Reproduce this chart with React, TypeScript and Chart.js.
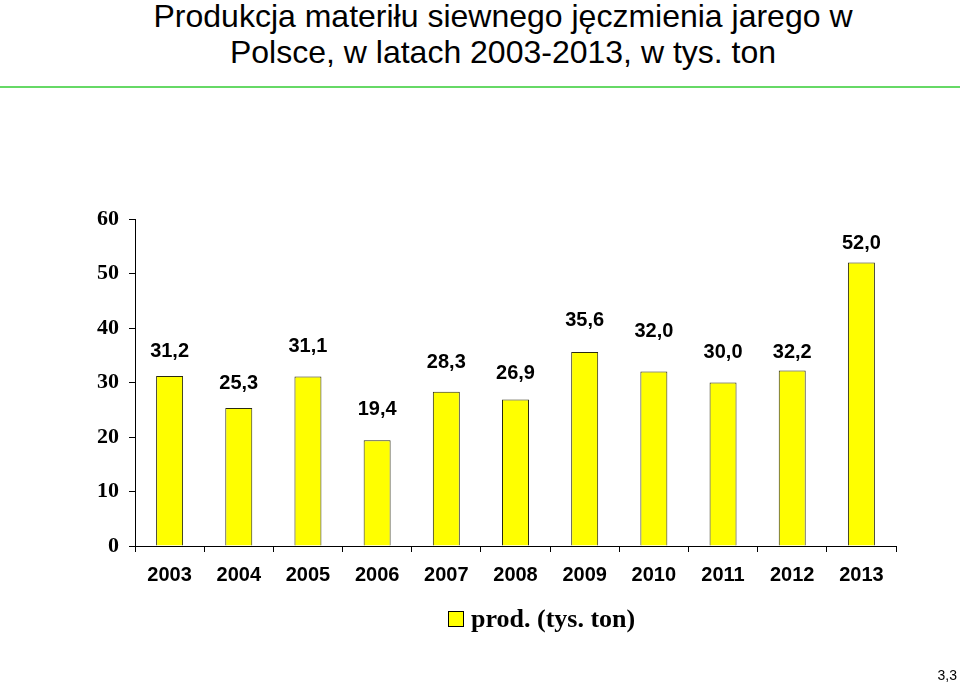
import React, { useEffect, useRef } from "react";
import { Chart, registerables } from "chart.js";

Chart.register(...registerables);

const years = ["2003", "2004", "2005", "2006", "2007", "2008", "2009", "2010", "2011", "2012", "2013"];
const production = [31.2, 25.3, 31.1, 19.4, 28.3, 26.9, 35.6, 32.0, 30.0, 32.2, 52.0];
const labelLifts = [24, 25, 30, 31, 29, 26, 31, 40, 30, 18, 19];
const yTicks = [0, 10, 20, 30, 40, 50, 60];
const titleLines = ["Produkcja materiłu siewnego jęczmienia jarego w", "Polsce, w latach 2003-2013, w tys. ton"];
const seriesName = "prod. (tys. ton)";
const pageNote = "3,3";

const valueLabels = {
  id: "valueLabels",
  afterDatasetsDraw(chart: any) {
    const ctx = chart.ctx;
    const meta = chart.getDatasetMeta(0);
    ctx.save();
    ctx.font = "bold 20px 'Liberation Sans', Arial, sans-serif";
    ctx.fillStyle = "#000";
    ctx.textAlign = "center";
    ctx.textBaseline = "middle";
    meta.data.forEach((el: any, i: number) => {
      const v = production[i];
      ctx.fillText(v.toFixed(1).replace(".", ","), el.x, el.y - labelLifts[i]);
    });
    ctx.restore();
  },
};

export default function App() {
  const ref = useRef<HTMLCanvasElement | null>(null);
  useEffect(() => {
    if (!ref.current) return;
    const chart = new Chart(ref.current, {
      type: "bar",
      data: {
        labels: years,
        datasets: [
          {
            label: seriesName,
            data: production,
            backgroundColor: "#FFFF00",
            borderColor: "#2a2a10",
            borderWidth: 1,
            categoryPercentage: 1,
            barPercentage: 0.39,
          },
        ],
      },
      options: {
        animation: false,
        responsive: false,
        maintainAspectRatio: false,
        layout: { padding: { left: 0, right: 64, top: 219, bottom: 90 } },
        plugins: {
          legend: { display: false },
          title: { display: false },
          tooltip: { enabled: false },
        },
        scales: {
          x: {
            offset: true,
            grid: {
              display: true,
              offset: true,
              drawOnChartArea: false,
              drawTicks: true,
              tickLength: 6,
              color: "#000",
            },
            border: { display: true, color: "#000", width: 1 },
            ticks: {
              color: "#000",
              padding: 11,
              maxRotation: 0,
              autoSkip: false,
              font: { family: "'Liberation Sans', Arial, sans-serif", size: 20, weight: "bold" },
            },
            afterFit: (s: any) => {
              s.height = 48;
            },
          },
          y: {
            min: 0,
            max: 60,
            afterBuildTicks: (s: any) => {
              s.ticks = yTicks.map((v) => ({ value: v }));
            },
            grid: {
              display: true,
              drawOnChartArea: false,
              drawTicks: true,
              tickLength: 6,
              color: "#000",
            },
            border: { display: true, color: "#000", width: 1 },
            ticks: {
              color: "#000",
              padding: 10,
              font: { family: "'Liberation Serif', 'Times New Roman', serif", size: 22, weight: "bold" },
            },
            afterFit: (s: any) => {
              s.width = 135;
            },
          },
        },
      },
      plugins: [valueLabels],
    });
    return () => chart.destroy();
  }, []);

  return (
    <div style={{ position: "fixed", left: 0, top: 0, width: 960, height: 684, background: "#fff", overflow: "hidden" }}>
      <div
        style={{
          position: "absolute",
          left: 0,
          top: -2,
          width: 1006,
          textAlign: "center",
          fontFamily: "'Liberation Sans', Arial, sans-serif",
          fontSize: 32,
          lineHeight: "36px",
          color: "#000",
          whiteSpace: "nowrap",
        }}
      >
        {titleLines.map((t, i) => (
          <div key={i}>{t}</div>
        ))}
      </div>
      <div style={{ position: "absolute", left: 0, top: 86, width: 960, height: 2, background: "#66d966" }} />
      <canvas ref={ref} width={960} height={684} style={{ position: "absolute", left: 0, top: 0 }} />
      <div
        style={{
          position: "absolute",
          left: 448,
          top: 604,
          display: "flex",
          alignItems: "center",
          fontFamily: "'Liberation Serif', 'Times New Roman', serif",
          fontWeight: "bold",
          fontSize: 26,
          lineHeight: "30px",
          color: "#000",
        }}
      >
        <span style={{ display: "inline-block", width: 14, height: 14, background: "#FFFF00", border: "1px solid #000", marginRight: 7 }} />
        <span>{seriesName}</span>
      </div>
      <div
        style={{
          position: "absolute",
          right: 3,
          top: 667,
          fontFamily: "'Liberation Sans', Arial, sans-serif",
          fontSize: 14,
          color: "#000",
        }}
      >
        {pageNote}
      </div>
    </div>
  );
}
